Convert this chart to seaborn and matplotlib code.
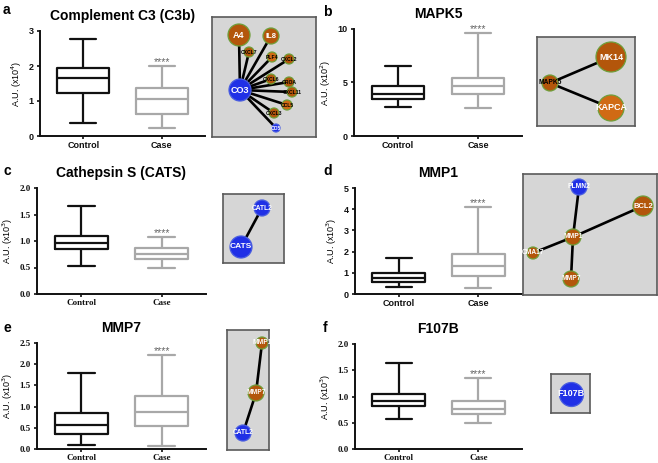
import numpy as np
import pandas as pd
import seaborn as sns
import matplotlib.pyplot as plt

sns.set_style("white", {"text.color": "black", "axes.labelcolor": "black"})
plt.rcParams["font.family"] = ["Liberation Sans", "DejaVu Sans"]

W, H = 658, 463

groups = ["Control", "Case"]

# five-number summaries: min, Q1, median, Q3, max
c3b_control = [0.37, 1.22, 1.66, 1.94, 2.77]
c3b_case = [0.24, 0.63, 1.05, 1.38, 2.00]
mapk5_control = [2.70, 3.45, 3.89, 4.67, 6.58]
mapk5_case = [2.63, 3.89, 4.67, 5.39, 9.59]
cats_control = [0.53, 0.845, 0.965, 1.085, 1.66]
cats_case = [0.50, 0.66, 0.76, 0.86, 1.07]
mmp1_control = [0.33, 0.56, 0.74, 1.00, 1.68]
mmp1_case = [0.30, 0.86, 1.30, 1.91, 4.10]
mmp7_control = [0.10, 0.35, 0.57, 0.84, 1.80]
mmp7_case = [0.07, 0.54, 0.87, 1.24, 2.21]
f107b_control = [0.575, 0.82, 0.92, 1.04, 1.63]
f107b_case = [0.50, 0.67, 0.77, 0.92, 1.35]

# interaction networks (node positions in figure pixels)
BROWN, ORANGE, BLUE = "#b3560b", "#d06a14", "#2030e6"
net_a_names = ["CO3", "A4", "IL8", "CXCL7", "PLF4", "CXCL2", "CXCL6", "GROA", "CXCL11", "CCL5", "CXCL3", "CO5"]
net_a_x = [240, 239, 271, 249, 272, 289, 271, 289, 292, 287, 274, 276]
net_a_y = [90, 35, 36, 52, 57, 59, 79, 82, 92, 105, 113, 128]
net_a_r = [11, 11, 8, 5, 5, 5, 5, 5, 5, 5, 5, 4]
net_a_col = [BLUE, BROWN, BROWN, BROWN, ORANGE, BROWN, BROWN, BROWN, BROWN, ORANGE, BROWN, BLUE]
net_a_edges = [(0, i) for i in range(1, 12)]

net_b_names = ["MAPK5", "MK14", "KAPCA"]
net_b_x = [550, 611, 611]
net_b_y = [83, 57, 108]
net_b_r = [8, 15, 13]
net_b_col = [BROWN, BROWN, ORANGE]
net_b_edges = [(0, 1), (0, 2)]

net_c_names = ["CATL2", "CATS"]
net_c_x = [262, 241]
net_c_y = [208, 247]
net_c_r = [8, 11]
net_c_col = [BLUE, BLUE]
net_c_edges = [(0, 1)]

net_d_names = ["PLMN2", "BCL2", "MMP1", "CMA17", "MMP7"]
net_d_x = [579, 643, 573, 533, 571]
net_d_y = [187, 206, 237, 253, 279]
net_d_r = [8, 10, 8, 6, 8]
net_d_col = [BLUE, BROWN, BROWN, BROWN, BROWN]
net_d_edges = [(0, 2), (2, 4), (3, 2), (2, 1)]

net_e_names = ["MMP1", "MMP7", "CATL2"]
net_e_x = [262, 256, 243]
net_e_y = [343, 393, 433]
net_e_r = [6, 8, 8]
net_e_col = [BROWN, BROWN, BLUE]
net_e_edges = [(0, 1), (1, 2)]

net_f_names = ["F107B"]
net_f_x = [571]
net_f_y = [394]
net_f_r = [12]
net_f_col = [BLUE]
net_f_edges = []

fig = plt.figure(figsize=(W / 100, H / 100), dpi=100)


def px(l, t, r, b):
    return [l / W, 1 - b / H, (r - l) / W, (b - t) / H]


def box_panel(rect, title, control, case, yticks, power, fmt, serif):
    ax = fig.add_axes(px(*rect))
    df = pd.DataFrame({"group": np.repeat(groups, 5), "value": control + case})
    sns.boxplot(data=df, x="group", y="value", hue="group", palette=["#111111", "#a8a8a8"],
                fill=False, whis=(0, 100), width=0.66, linewidth=1.6, legend=False, ax=ax)
    ax.set_xlim(-0.55, 1.55)
    ax.set_ylim(yticks[0], yticks[-1])
    ax.set_yticks(yticks)
    ax.set_yticklabels([fmt.format(v) for v in yticks])
    ax.annotate("****", (1, max(case)), xytext=(0, -0.5), textcoords="offset points",
                ha="center", va="bottom", fontsize=7.5, color="#666666")
    ax.set_title(title, fontsize=10, fontweight="bold", pad=8, color="black")
    ax.set_xlabel("")
    ax.set_ylabel(f"A.U. (x10$^{{{power}}}$)", fontsize=6.5, labelpad=3)
    for s in ["top", "right"]:
        ax.spines[s].set_visible(False)
    for s in ["left", "bottom"]:
        ax.spines[s].set_linewidth(1.4)
        ax.spines[s].set_color("#111111")
    ax.tick_params(axis="both", direction="out", length=2.5, width=1.2, pad=2,
                   left=True, bottom=True, colors="#111111")
    ax.tick_params(axis="x", length=2, pad=1.5)
    fam = ["Liberation Serif"] if serif else ["Liberation Sans"]
    for lab in ax.get_xticklabels() + ax.get_yticklabels():
        lab.set_fontsize(6.5)
        lab.set_fontweight("bold")
        lab.set_family(fam)
    return ax


def net_panel(rect, names, xs, ys, radii, cols, edges):
    l, t, r, b = rect
    ax = fig.add_axes(px(*rect))
    ax.set_xlim(l, r)
    ax.set_ylim(b, t)
    ax.set_facecolor("#d6d6d6")
    ax.set_xticks([])
    ax.set_yticks([])
    for s in ax.spines.values():
        s.set_color("#5a5a5a")
        s.set_linewidth(1.2)
    for i, j in edges:
        ax.plot([xs[i], xs[j]], [ys[i], ys[j]], color="black", lw=1.9, zorder=1)
    sizes = [(2 * rr * 0.72) ** 2 for rr in radii]
    edgec = ["#4a5ee0" if c == BLUE else "#6f9e3a" for c in cols]
    ax.scatter(xs, ys, s=sizes, c=cols, edgecolors=edgec, linewidths=0.9, zorder=2)
    for n, x, y, rr, c in zip(names, xs, ys, radii, cols):
        small = rr <= 5
        fs = 3.6 if small else min(6.5, max(4.8, rr * 0.55))
        if n in ("A4", "CO3", "IL8"):
            fs = 6.5 if rr > 8 else 5.5
        color = "black" if (small and c != BLUE) or n == "MAPK5" else "white"
        ax.text(x, y, n, ha="center", va="center", fontsize=fs, color=color,
                fontweight="bold", zorder=3, clip_on=False)
    return ax


box_panel((40, 31, 205, 136), "Complement C3 (C3b)", c3b_control, c3b_case,
          [0, 1, 2, 3], 4, "{:g}", False)
box_panel((354, 29, 522, 136), "MAPK5", mapk5_control, mapk5_case,
          [0, 5, 10], 2, "{:g}", False)
box_panel((37, 188, 206, 294), "Cathepsin S (CATS)", cats_control, cats_case,
          [0, 0.5, 1.0, 1.5, 2.0], 3, "{:.1f}", True)
box_panel((355, 188, 522, 294), "MMP1", mmp1_control, mmp1_case,
          [0, 1, 2, 3, 4, 5], 3, "{:g}", False)
box_panel((37, 343, 206, 449), "MMP7", mmp7_control, mmp7_case,
          [0, 0.5, 1.0, 1.5, 2.0, 2.5], 3, "{:.1f}", True)
box_panel((355, 344, 522, 449), "F107B", f107b_control, f107b_case,
          [0, 0.5, 1.0, 1.5, 2.0], 3, "{:.1f}", True)

net_panel((212, 17, 316, 137), net_a_names, net_a_x, net_a_y, net_a_r, net_a_col, net_a_edges)
net_panel((537, 37, 635, 126), net_b_names, net_b_x, net_b_y, net_b_r, net_b_col, net_b_edges)
net_panel((223, 194, 284, 263), net_c_names, net_c_x, net_c_y, net_c_r, net_c_col, net_c_edges)
net_panel((523, 174, 657, 295), net_d_names, net_d_x, net_d_y, net_d_r, net_d_col, net_d_edges)
net_panel((227, 330, 269, 450), net_e_names, net_e_x, net_e_y, net_e_r, net_e_col, net_e_edges)
net_panel((551, 374, 590, 413), net_f_names, net_f_x, net_f_y, net_f_r, net_f_col, net_f_edges)

for letter, x, y in [("a", 3, 10), ("b", 323, 12), ("c", 4, 171),
                     ("d", 323, 171), ("e", 4, 328), ("f", 323, 328)]:
    fig.text(x / W, 1 - y / H, letter, fontsize=10, fontweight="bold", va="center", ha="left")

fig.savefig("out.png", dpi=100)
